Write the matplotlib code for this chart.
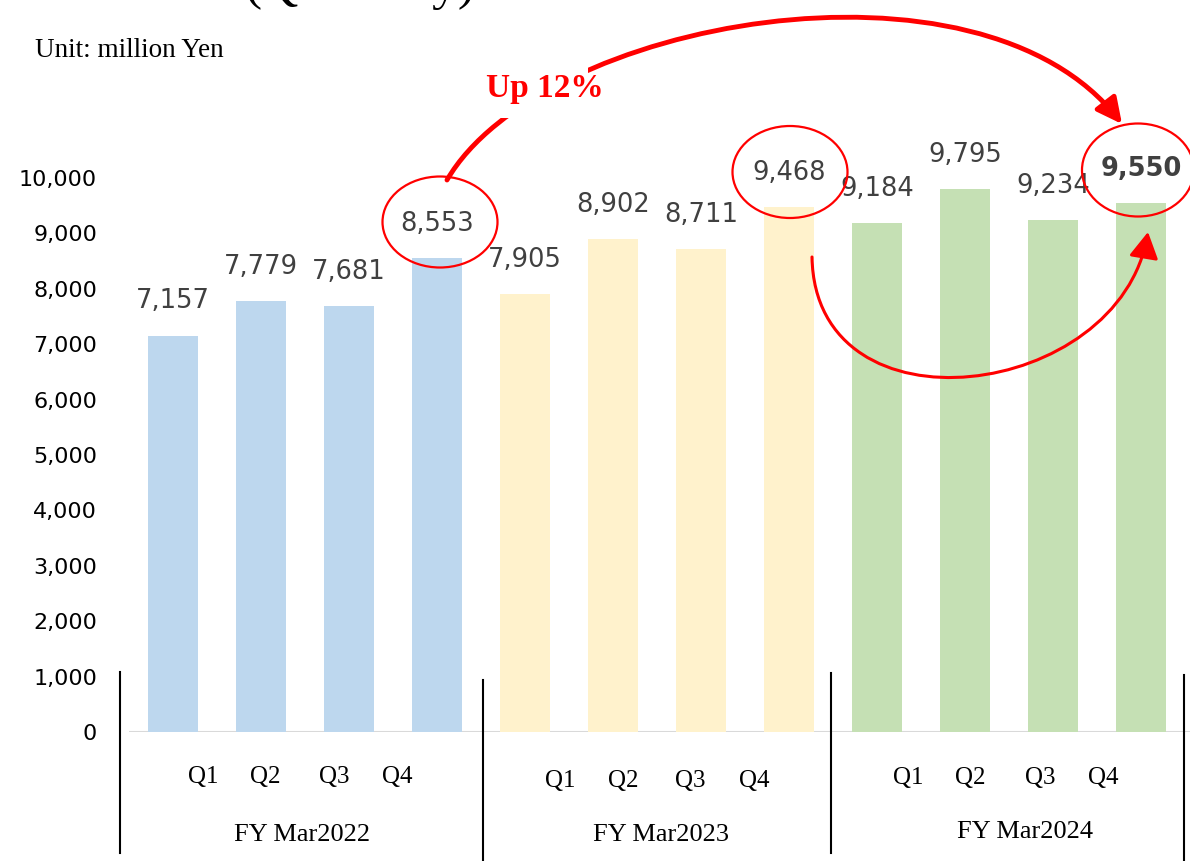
import matplotlib
matplotlib.use("Agg")
import matplotlib.pyplot as plt
from matplotlib.patches import Ellipse, FancyArrowPatch, Rectangle
from matplotlib.path import Path
import numpy as np

# ---- data ----
fiscal_years = ["FY Mar2022", "FY Mar2023", "FY Mar2024"]
quarters = ["Q1", "Q2", "Q3", "Q4"]
fy2022 = [7157, 7779, 7681, 8553]
fy2023 = [7905, 8902, 8711, 9468]
fy2024 = [9184, 9795, 9234, 9550]
year_colors = ["#BDD7EE", "#FFF2CC", "#C5E0B4"]
y_ticks = list(range(0, 10001, 1000))

W, H = 1190, 861
fig = plt.figure(figsize=(W / 100, H / 100), dpi=100)

ax = fig.add_axes([129 / W, (H - 732) / H, 1 - 129 / W, (732 - 100) / H])
ax.set_xlim(-0.5, (W - 173) / 88)
ax.set_ylim(0, (732 - 100) / 55.4 * 1000)
for s in ax.spines.values():
    s.set_visible(False)

series = [fy2022, fy2023, fy2024]
bar_w = 0.557
idx = 0
for g, vals in enumerate(series):
    xs = np.arange(idx, idx + len(vals))
    ax.bar(xs, vals, width=bar_w, color=year_colors[g], zorder=2)
    for j, (x, v) in enumerate(zip(xs, vals)):
        bold = (g == len(series) - 1 and j == len(vals) - 1)
        ax.annotate(f"{v:,}", (x, v), xytext=(0, 24.5), textcoords="offset points",
                    ha="center", va="center", fontsize=18.5, color="#404040",
                    fontweight="bold" if bold else "normal", zorder=3)
    idx += len(vals)

ax.axhline(0, color="#D9D9D9", lw=1.5, zorder=1)
ax.set_yticks(y_ticks)
ax.set_yticklabels([f"{t:,}" for t in y_ticks], fontsize=16, color="#000000")
ax.tick_params(axis="y", length=0, pad=23)
ax.set_xticks([])

# ---- overlay in pixel coordinates for decorations ----
ov = fig.add_axes([0, 0, 1, 1], facecolor="none")
ov.set_xlim(0, W)
ov.set_ylim(H, 0)
ov.axis("off")

serif = "Liberation Serif"
# title (cut off at the top edge, as in the reference)
ov.text(245, -1, "(Quarterly)", fontsize=37, family=serif, ha="left", va="baseline", color="black")
ov.text(35, 57, "Unit: million Yen", fontsize=19.5, family=serif, ha="left", va="baseline", color="black")

# quarter / year labels
q_offsets = [[203, 265, 334, 397], [560, 623, 690, 754], [908, 970, 1040, 1103]]
q_y = [777, 781, 778]
fy_x = [302, 661, 1025]
fy_y = [835, 835, 832]
for g in range(3):
    for q, xq in zip(quarters, q_offsets[g]):
        ov.text(xq, q_y[g], q, fontsize=18, family=serif, ha="center", va="center")
    ov.text(fy_x[g], fy_y[g], fiscal_years[g], fontsize=19, family=serif, ha="center", va="center")

# separators
for x, y0, y1 in [(120, 672, 853), (483, 680, 861), (831, 673, 853), (1184, 675, 861)]:
    ov.plot([x, x], [y0, y1], color="black", lw=1.5)

# ellipses
for cx, cy, ew, eh in [(440, 222, 115, 91), (790, 172, 115, 92), (1138, 170, 112, 93)]:
    ov.add_patch(Ellipse((cx, cy), ew, eh, fill=False, edgecolor="red", lw=1.6, zorder=5))

# big arc arrow
p = Path([(447, 180), (540, 20), (980, -60), (1122, 124)],
         [Path.MOVETO, Path.CURVE4, Path.CURVE4, Path.CURVE4])
ov.add_patch(FancyArrowPatch(path=p, arrowstyle="-|>,head_length=0.7,head_width=0.35",
                             mutation_scale=22, lw=3.5, color="red", zorder=5))
# white box behind label
ov.add_patch(Rectangle((476, 55), 112, 63, facecolor="white", edgecolor="none", zorder=6))
ov.text(545, 88, "Up 12%", fontsize=24, family=serif, fontweight="bold", color="red",
        ha="center", va="center", zorder=7)

# lower arc arrow
p2 = Path([(812, 257), (815, 440), (1120, 400), (1148, 232)],
          [Path.MOVETO, Path.CURVE4, Path.CURVE4, Path.CURVE4])
ov.add_patch(FancyArrowPatch(path=p2, arrowstyle="-|>,head_length=0.8,head_width=0.45",
                             mutation_scale=20, lw=2.2, color="red", zorder=5))

fig.savefig("out.png", dpi=100)
